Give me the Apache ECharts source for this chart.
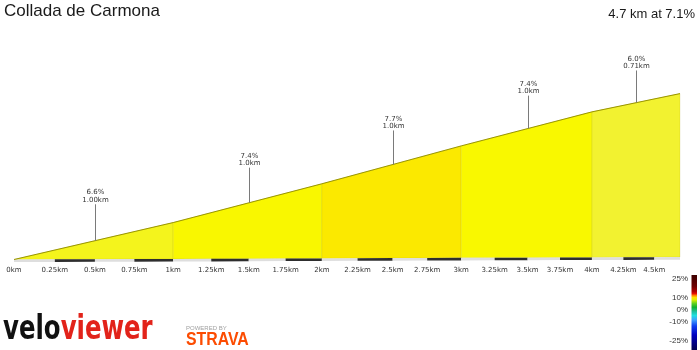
<!DOCTYPE html>
<html><head><meta charset="utf-8">
<script src="https://cdn.jsdelivr.net/npm/echarts@6/dist/echarts.min.js"></script>
<style>html,body{margin:0;padding:0;background:#fff}#c{width:700px;height:350px}</style>
</head><body><div id="c"></div>
<script>
// ---- data ----
const titleText = 'Collada de Carmona';
const summaryText = '4.7 km at 7.1%';
const pointKm = [0, 1.00, 2.00, 3.00, 4.00, 4.71];
const pointElev = [0, 66, 140, 217, 291, 334];
const segGrade = ['6.6%', '7.4%', '7.7%', '7.4%', '6.0%'];
const segLength = ['1.00km', '1.0km', '1.0km', '1.0km', '0.71km'];
const tickKm = [0, 0.25, 0.5, 0.75, 1, 1.25, 1.5, 1.75, 2, 2.25, 2.5, 2.75, 3, 3.25, 3.5, 3.75, 4, 4.25, 4.5];
const tickLabels = ['0km', '0.25km', '0.5km', '0.75km', '1km', '1.25km', '1.5km', '1.75km', '2km', '2.25km', '2.5km', '2.75km', '3km', '3.25km', '3.5km', '3.75km', '4km', '4.25km', '4.5km'];
const legendLabels = ['25%', '10%', '0%', '-10%', '-25%'];

// ---- styles ----
const segColors = ['#f4f41c', '#f9f700', '#fbe900', '#f9f800', '#f2f230'];
const K = 0.035, G = 30, LEADER = 65;
const px = d => d / (1 + K * d);
const py = (d, e) => (e + G * K * d) / (1 + K * d);
const totalKm = pointKm[pointKm.length - 1];
const tickPos = tickKm.map(px);

const segData = pointKm.slice(0, -1).map((d, i) => [d, pointElev[i], pointKm[i + 1], pointElev[i + 1], i]);
const bandKm = tickKm.concat([totalKm]);
const bandData = bandKm.slice(0, -1).map((d, i) => [d, bandKm[i + 1], i]);

const chart = echarts.init(document.getElementById('c'), null, {renderer: 'canvas'});
chart.setOption({
  animation: false,
  grid: {left: 14, right: 20, top: 40, bottom: 90.5},
  xAxis: {
    type: 'value', min: 0, max: px(totalKm),
    axisLine: {show: false}, axisTick: {show: false}, splitLine: {show: false},
    axisLabel: {
      customValues: tickPos, margin: 7, fontSize: 7, fontFamily: 'DejaVu Sans', color: '#333',
      formatter: v => { const i = tickPos.findIndex(x => Math.abs(x - v) < 1e-6); return i >= 0 ? tickLabels[i] : ''; }
    }
  },
  yAxis: {type: 'value', min: 0, max: 385, show: false},
  series: [
    {
      type: 'custom', z: 1, data: segData, silent: true,
      renderItem: (params, api) => {
        const d0 = api.value(0), e0 = api.value(1), d1 = api.value(2), e1 = api.value(3), i = api.value(4);
        const pts = [
          api.coord([px(d0), py(d0, 0)]), api.coord([px(d0), py(d0, e0)]),
          api.coord([px(d1), py(d1, e1)]), api.coord([px(d1), py(d1, 0)])
        ];
        return {type: 'polygon', shape: {points: pts},
          style: {fill: segColors[i], stroke: 'rgba(150,140,0,0.25)', lineWidth: 0.6}};
      }
    },
    {
      type: 'line', z: 3, symbol: 'none', silent: true,
      data: pointKm.map((d, i) => [px(d), py(d, pointElev[i])]),
      lineStyle: {color: '#9a9600', width: 1}
    },
    {
      type: 'custom', z: 2, data: bandData, silent: true,
      renderItem: (params, api) => {
        const a = api.value(0), b = api.value(1), i = api.value(2);
        const p0 = api.coord([px(a), py(a, 0)]), p1 = api.coord([px(b), py(b, 0)]);
        return {type: 'polygon', shape: {points: [[p0[0], p0[1]], [p1[0], p1[1]], [p1[0], p1[1] + 2.6], [p0[0], p0[1] + 2.6]]},
          style: {fill: i % 2 ? '#2e2e2e' : '#dedede'}};
      }
    },
    {
      type: 'custom', z: 4, data: segData, silent: true,
      renderItem: (params, api) => {
        const d0 = api.value(0), e0 = api.value(1), d1 = api.value(2), e1 = api.value(3), i = api.value(4);
        const dm = (d0 + d1) / 2, em = (e0 + e1) / 2;
        const a = api.coord([px(dm), py(dm, em)]), b = api.coord([px(dm), py(dm, em + LEADER)]);
        return {type: 'group', children: [
          {type: 'line', shape: {x1: Math.round(a[0]) + 0.5, y1: a[1], x2: Math.round(a[0]) + 0.5, y2: b[1]},
            style: {stroke: '#7a7a7a', lineWidth: 1}},
          {type: 'text', x: Math.round(a[0]) + 0.5, y: b[1] - 0.5,
            style: {text: segGrade[i] + '\n' + segLength[i], align: 'center', verticalAlign: 'bottom',
              font: '7px "DejaVu Sans"', lineHeight: 7.5, fill: '#333'}}
        ]};
      }
    }
  ],
  graphic: [
    {type: 'text', x: 4, y: 11.3, style: {text: titleText, font: '17px "Liberation Sans"', fill: '#1a1a1a', verticalAlign: 'middle'}},
    {type: 'text', x: 695, y: 14.7, style: {text: summaryText, font: '13px "Liberation Sans"', fill: '#1a1a1a', align: 'right', verticalAlign: 'middle'}},
    {type: 'rect', shape: {x: 691.5, y: 275, width: 5.5, height: 75},
      style: {fill: new echarts.graphic.LinearGradient(0, 0, 0, 1, [
        {offset: 0, color: '#3c0000'}, {offset: 0.15, color: '#6b0000'}, {offset: 0.22, color: '#b00000'},
        {offset: 0.25, color: '#e81000'}, {offset: 0.27, color: '#ff7a00'}, {offset: 0.30, color: '#ffe000'},
        {offset: 0.33, color: '#e0f000'}, {offset: 0.38, color: '#60d020'}, {offset: 0.43, color: '#10b030'},
        {offset: 0.49, color: '#20c0a0'}, {offset: 0.54, color: '#20e0e0'}, {offset: 0.60, color: '#40a0ff'},
        {offset: 0.68, color: '#1040f0'}, {offset: 0.80, color: '#0000c0'}, {offset: 1, color: '#000050'}])}},
    {type: 'text', x: 688, y: 279, style: {text: legendLabels[0], font: '8px "Liberation Sans"', fill: '#333', align: 'right', verticalAlign: 'middle'}},
    {type: 'text', x: 688, y: 297.5, style: {text: legendLabels[1], font: '8px "Liberation Sans"', fill: '#333', align: 'right', verticalAlign: 'middle'}},
    {type: 'text', x: 688, y: 309.5, style: {text: legendLabels[2], font: '8px "Liberation Sans"', fill: '#333', align: 'right', verticalAlign: 'middle'}},
    {type: 'text', x: 688, y: 321.5, style: {text: legendLabels[3], font: '8px "Liberation Sans"', fill: '#333', align: 'right', verticalAlign: 'middle'}},
    {type: 'text', x: 688, y: 341, style: {text: legendLabels[4], font: '8px "Liberation Sans"', fill: '#333', align: 'right', verticalAlign: 'middle'}},
    {type: 'text', x: 3, y: 347, scaleX: 0.74, style: {text: '{a|velo}{b|viewer}', verticalAlign: 'bottom',
      rich: {a: {font: 'bold 33px "DejaVu Sans"', fill: '#111'}, b: {font: 'bold 33px "DejaVu Sans"', fill: '#e2231a'}}}},
    {type: 'text', x: 186, y: 328, style: {text: 'POWERED BY', font: '6px "Liberation Sans"', fill: '#a0a0a0', verticalAlign: 'middle'}},
    {type: 'text', x: 186, y: 340.5, scaleX: 0.88, style: {text: 'STRAVA', font: 'bold 18px "Liberation Sans"', fill: '#fc4c02', verticalAlign: 'middle'}}
  ]
});
</script></body></html>
